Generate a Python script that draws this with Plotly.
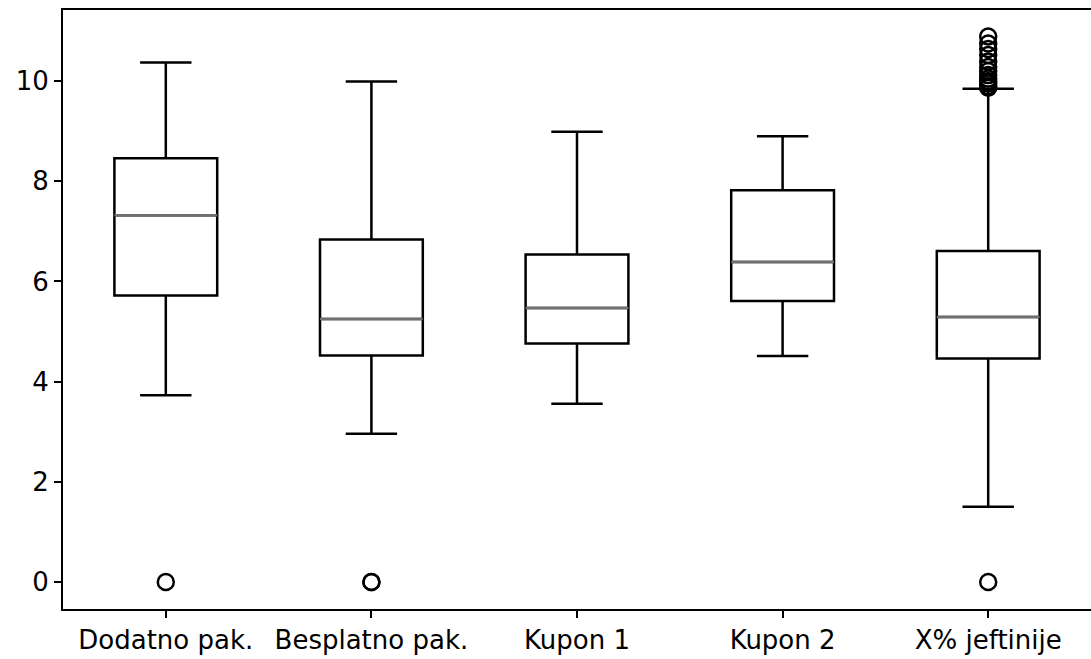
import plotly.graph_objects as go

categories = ["Dodatno pak.", "Besplatno pak.", "Kupon 1", "Kupon 2", "X% jeftinije"]
lower_whisker = [3.73, 2.96, 3.56, 4.51, 1.50]
q1 = [5.72, 4.52, 4.76, 5.61, 4.46]
median = [7.32, 5.25, 5.47, 6.39, 5.29]
q3 = [8.46, 6.84, 6.54, 7.82, 6.61]
upper_whisker = [10.37, 9.99, 8.99, 8.90, 9.85]
outliers = [
    [0.0],
    [0.0, 0.0],
    [],
    [],
    [0.0, 9.87, 9.90, 9.95, 10.00, 10.05, 10.12, 10.20, 10.28, 10.39, 10.52, 10.64, 10.75, 10.89],
]
yticks = [0, 2, 4, 6, 8, 10]

positions = list(range(1, len(categories) + 1))
box_width = 0.5

fig = go.Figure()

for i, p in enumerate(positions):
    fig.add_trace(go.Box(
        x=[p], q1=[q1[i]], median=[median[i]], q3=[q3[i]],
        lowerfence=[lower_whisker[i]], upperfence=[upper_whisker[i]],
        width=box_width, whiskerwidth=0.5,
        fillcolor="rgba(255,255,255,0)",
        line=dict(color="black", width=2.5),
        boxpoints=False, showlegend=False, hoverinfo="skip",
    ))

# median lines in grey
mx, my = [], []
for i, p in enumerate(positions):
    mx += [p - box_width / 2, p + box_width / 2, None]
    my += [median[i], median[i], None]
fig.add_trace(go.Scatter(x=mx, y=my, mode="lines",
                         line=dict(color="#707070", width=2.5),
                         showlegend=False, hoverinfo="skip"))

# outliers
ox, oy = [], []
for i, p in enumerate(positions):
    for v in outliers[i]:
        ox.append(p)
        oy.append(v)
fig.add_trace(go.Scatter(x=ox, y=oy, mode="markers",
                         marker=dict(symbol="circle-open", size=16,
                                     color="black", line=dict(width=2.5)),
                         showlegend=False, hoverinfo="skip"))

font = dict(family="DejaVu Sans", size=26, color="black")

fig.update_layout(
    width=1091, height=659,
    margin=dict(l=63, r=0, t=10, b=50),
    plot_bgcolor="white", paper_bgcolor="white",
    font=font,
    xaxis=dict(
        range=[0.5, 5.5], tickmode="array", tickvals=positions, ticktext=categories,
        showgrid=False, zeroline=False, showline=True, linecolor="black", linewidth=2,
        mirror=True, ticks="outside", ticklen=7, tickwidth=2, tickcolor="black",
        tickfont=font,
    ),
    yaxis=dict(
        range=[-0.54, 11.42], tickmode="array", tickvals=yticks,
        ticktext=[str(t) for t in yticks],
        showgrid=False, zeroline=False, showline=True, linecolor="black", linewidth=2,
        ticks="outside", ticklen=7, tickwidth=2, tickcolor="black",
        tickfont=font,
    ),
)

fig.write_html("out.html")
